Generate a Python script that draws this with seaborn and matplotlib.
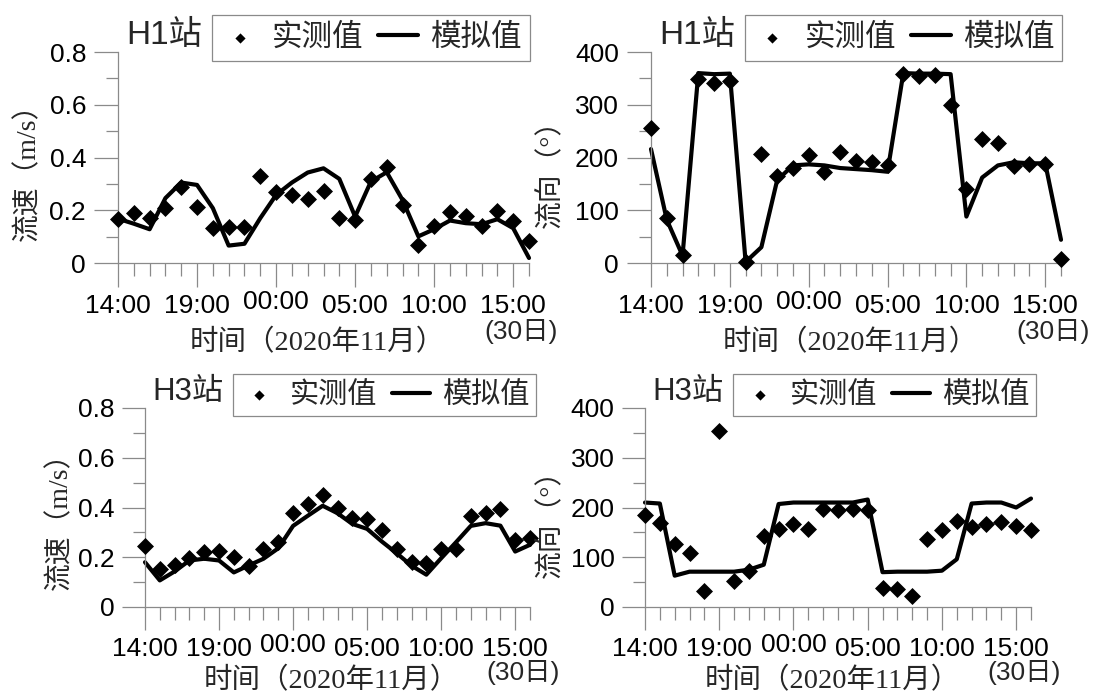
import numpy as np
import pandas as pd
import matplotlib
matplotlib.use("Agg")
import matplotlib.pyplot as plt
import seaborn as sns

# hourly samples from 14:00 (29th) to 16:00 (30th), Nov 2020
hours = list(range(27))
tick_pos = [0, 5, 10, 15, 20, 25]
tick_text = ["14:00", "19:00", "00:00", "05:00", "10:00", "15:00"]

h1_speed_obs = [0.168, 0.189, 0.170, 0.208, 0.290, 0.212, 0.131, 0.135, 0.135, 0.328,
                0.268, 0.258, 0.244, 0.273, 0.170, 0.164, 0.319, 0.363, 0.220, 0.069,
                0.142, 0.194, 0.180, 0.142, 0.197, 0.161, 0.083]
h1_speed_sim = [0.168, 0.149, 0.128, 0.246, 0.305, 0.296, 0.208, 0.066, 0.073, 0.170,
                0.258, 0.305, 0.343, 0.359, 0.319, 0.176, 0.309, 0.344, 0.239, 0.101,
                0.128, 0.161, 0.151, 0.147, 0.166, 0.132, 0.019]
h1_dir_obs = [256, 85, 16, 349, 341, 345, 2, 207, 165, 180,
              205, 173, 210, 194, 192, 186, 358, 355, 357, 299,
              140, 236, 227, 183, 188, 188, 8]
h1_dir_sim = [216, 82, 14, 360, 358, 359, 2, 30, 157, 185,
              187, 185, 180, 178, 176, 173, 360, 359, 359, 358,
              88, 162, 185, 191, 189, 189, 44]
h3_speed_obs = [0.247, 0.154, 0.167, 0.196, 0.223, 0.226, 0.200, 0.163, 0.232, 0.263,
                0.377, 0.413, 0.450, 0.397, 0.357, 0.353, 0.310, 0.232, 0.182, 0.176,
                0.235, 0.232, 0.367, 0.377, 0.394, 0.270, 0.276]
h3_speed_sim = [0.180, 0.107, 0.143, 0.187, 0.194, 0.187, 0.139, 0.167, 0.194, 0.236,
                0.326, 0.367, 0.407, 0.377, 0.334, 0.314, 0.263, 0.216, 0.166, 0.130,
                0.196, 0.260, 0.326, 0.337, 0.327, 0.223, 0.250]
h3_dir_obs = [185, 168, 127, 108, 33, 353, 53, 73, 143, 157,
              167, 156, 197, 194, 197, 194, 39, 36, 23, 137,
              155, 173, 160, 166, 170, 163, 155]
h3_dir_sim = [210, 208, 63, 71, 71, 71, 71, 75, 85, 207,
              210, 210, 210, 210, 210, 216, 70, 71, 71, 71,
              73, 96, 208, 210, 210, 200, 218]

speed_ticks = [0, 0.2, 0.4, 0.6, 0.8]
speed_labels = ["0", "0.2", "0.4", "0.6", "0.8"]
speed_minor = [0.1, 0.3, 0.5, 0.7]
dir_ticks = [0, 100, 200, 300, 400]
dir_labels = ["0", "100", "200", "300", "400"]
dir_minor = [50, 150, 250, 350]

sns.set_style("ticks")
sans = ["Liberation Sans", "Noto Sans CJK SC"]
serif = ["Liberation Serif", "Noto Sans CJK SC"]
plt.rcParams["font.family"] = sans
plt.rcParams["axes.unicode_minus"] = False

gray = "#8a8a8a"
W, H = 1096, 693
fig = plt.figure(figsize=(W / 100, H / 100), dpi=100)

panels = [
    dict(box=(118, 529, 52, 263), name="H1站", obs=h1_speed_obs, sim=h1_speed_sim,
         ticks=speed_ticks, labels=speed_labels, minor=speed_minor, ylabel="流速（m/s）",
         ylab=(-0.220, 0.462), xlab_y=-0.379, title_fs=24, leg_fs=22, tl=17.5),
    dict(box=(651, 1061, 52, 263), name="H1站", obs=h1_dir_obs, sim=h1_dir_sim,
         ticks=dir_ticks, labels=dir_labels, minor=dir_minor, ylabel="流向（°）",
         ylab=(-0.245, 0.455), xlab_y=-0.379, title_fs=24, leg_fs=22, tl=17.5),
    dict(box=(145, 530, 408, 607), name="H3站", obs=h3_speed_obs, sim=h3_speed_sim,
         ticks=speed_ticks, labels=speed_labels, minor=speed_minor, ylabel="流速（m/s）",
         ylab=(-0.222, 0.467), xlab_y=-0.372, title_fs=22.5, leg_fs=21, tl=16.5),
    dict(box=(645, 1031, 408, 607), name="H3站", obs=h3_dir_obs, sim=h3_dir_sim,
         ticks=dir_ticks, labels=dir_labels, minor=dir_minor, ylabel="流向（°）",
         ylab=(-0.244, 0.452), xlab_y=-0.372, title_fs=22.5, leg_fs=21, tl=16.5),
]

for p in panels:
    left, right, top, bottom = p["box"]
    ax = fig.add_axes([left / W, 1 - bottom / H, (right - left) / W, (bottom - top) / H])
    df = pd.DataFrame({"hour": hours, "obs": p["obs"], "sim": p["sim"]})

    sns.lineplot(data=df, x="hour", y="sim", color="black", lw=3, ax=ax,
                 label="模拟值", clip_on=False, zorder=2)
    sns.scatterplot(data=df, x="hour", y="obs", marker="D", color="black", s=75,
                    linewidth=0, ax=ax, label="实测值", clip_on=False, zorder=3)

    ax.set_xlim(0, 26)
    ax.set_ylim(p["ticks"][0], p["ticks"][-1])
    ax.set_xticks(tick_pos)
    ax.set_xticklabels(tick_text)
    ax.set_xticks(hours, minor=True)
    ax.set_yticks(p["ticks"])
    ax.set_yticklabels(p["labels"])
    ax.set_yticks(p["minor"], minor=True)

    for s in ["top", "right"]:
        ax.spines[s].set_visible(False)
    for s in ["left", "bottom"]:
        ax.spines[s].set_color(gray)
        ax.spines[s].set_linewidth(0.9)

    ax.tick_params(which="major", direction="out", length=p["tl"], width=0.9,
                   color=gray, labelsize=19, labelcolor="black")
    ax.tick_params(which="minor", direction="out", length=9, width=0.9, color=gray)
    ax.tick_params(axis="y", which="major", pad=5.5)
    ax.tick_params(axis="x", which="major", pad=5)
    # the "00:00" label sits a bit higher in the original
    ax.get_xticklabels()[2].set_y(0.018)

    ax.set_xlabel("时间（2020年11月）", fontsize=20.5, family=serif, va="center")
    ax.xaxis.set_label_coords(0.485, p["xlab_y"])
    ax.set_ylabel(p["ylabel"], fontsize=20, family=serif, va="center")
    ax.yaxis.set_label_coords(*p["ylab"])

    ax.text(25.5, -0.327, "(30日)", transform=ax.get_xaxis_transform(),
            ha="center", va="center", fontsize=19, family=sans)

    ax.text(0.019, 1.08, p["name"], transform=ax.transAxes, ha="left", va="center",
            fontsize=p["title_fs"], family=sans)

    handles, labels = ax.get_legend_handles_labels()
    order = [labels.index("实测值"), labels.index("模拟值")]
    leg = ax.legend([handles[i] for i in order], [labels[i] for i in order],
                    loc="center left", bbox_to_anchor=(0.229, 1.066), ncol=2,
                    prop={"family": sans, "size": p["leg_fs"]}, frameon=True,
                    fancybox=False, framealpha=1, edgecolor=gray, borderpad=0.25,
                    handlelength=1.3, handletextpad=0.4, columnspacing=0.5,
                    markerscale=0.6, borderaxespad=0)
    leg.get_frame().set_linewidth(0.9)

fig.savefig("out.png", dpi=100)
